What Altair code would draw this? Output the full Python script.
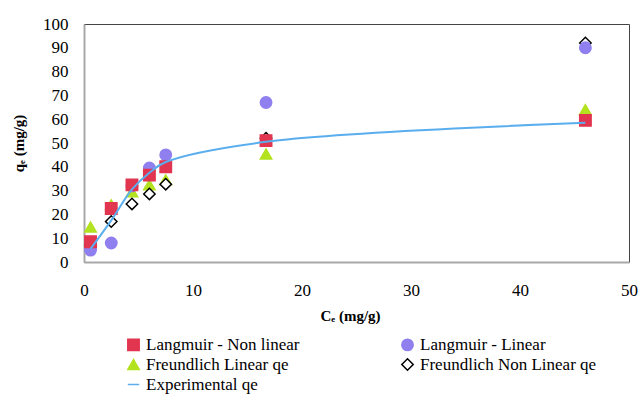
import altair as alt
import pandas as pd

# Equilibrium concentration Ce (mg/g)
ce = [0.6, 2.5, 4.4, 6.0, 7.5, 16.7, 46.0]

# qe (mg/g) for each model and the experimental data
langmuir_nonlinear = [8.5, 22.5, 32.4, 36.5, 40.0, 51.0, 59.5]
langmuir_linear = [5.0, 8.0, 32.0, 39.5, 45.0, 67.0, 90.0]
freundlich_linear = [14.7, 24.0, 29.5, 32.4, 34.5, 45.4, 64.0]
freundlich_nonlinear = [7.0, 17.0, 24.4, 28.6, 32.7, 52.0, 92.0]
experimental = [5.5, 17.5, 30.5, 37.5, 42.0, 50.5, 58.5]

series_names = [
    "Langmuir - Non linear",
    "Langmuir - Linear",
    "Freundlich Linear qe",
    "Freundlich Non Linear qe",
    "Experimental qe",
]

rows = []
for name, vals in zip(series_names, [langmuir_nonlinear, langmuir_linear,
                                      freundlich_linear, freundlich_nonlinear,
                                      experimental]):
    for i, (x, y) in enumerate(zip(ce, vals)):
        rows.append({"series": name, "ce": x, "qe": y, "order": i})
df = pd.DataFrame(rows)

FONT = "Liberation Serif"

fill_scale = alt.Scale(domain=series_names,
                       range=["#E2354F", "#8F7FEF", "#B3E21F", "white", "transparent"])
stroke_scale = alt.Scale(domain=series_names,
                         range=["#E2354F", "#8F7FEF", "#B3E21F", "black", "#5AAEEE"])
shape_scale = alt.Scale(domain=series_names,
                        range=["square", "circle", "triangle-up", "diamond", "stroke"])
size_scale = alt.Scale(domain=series_names, range=[130, 130, 130, 36, 841])

legend = alt.Legend(
    title=None, orient="none", legendX=41, legendY=312, columns=2,
    direction="horizontal",
    columnPadding=98, rowPadding=1, labelOffset=4, padding=0,
    labelFont=FONT, labelFontSize=17, labelColor="black",
    symbolStrokeWidth=1.5, labelLimit=300,
)

x_enc = alt.X("ce:Q", scale=alt.Scale(domain=[0, 50], nice=False),
              axis=alt.Axis(values=[0, 10, 20, 30, 40, 50], title="Cₑ (mg/g)",
                            labelFlush=False,
                            titleX=266, titleY=53, titleBaseline="middle",
                            titleAlign="center"))
y_enc = alt.Y("qe:Q", scale=alt.Scale(domain=[0, 100], nice=False),
              axis=alt.Axis(values=list(range(0, 101, 10)), title="qₑ (mg/g)",
                            titleX=-66, titleY=119, titleAngle=270,
                            titleAlign="center", titleBaseline="middle"))

points = alt.Chart(df).transform_filter(
    alt.datum.series != "Experimental qe"
).mark_point(filled=True, strokeWidth=1.5, opacity=1).encode(
    x=x_enc, y=y_enc,
    fill=alt.Fill("series:N", scale=fill_scale, legend=legend),
    stroke=alt.Stroke("series:N", scale=stroke_scale, legend=legend),
    shape=alt.Shape("series:N", scale=shape_scale, legend=legend),
    size=alt.Size("series:N", scale=size_scale, legend=legend),
    order=alt.Order("series:N"),
)

line = alt.Chart(df).transform_filter(
    alt.datum.series == "Experimental qe"
).mark_line(interpolate="catmull-rom", strokeWidth=2).encode(
    x=x_enc, y=y_enc,
    stroke=alt.Stroke("series:N", scale=stroke_scale, legend=legend),
    order="order:Q",
)

chart = alt.layer(points, line).properties(
    width=545, height=238,
    autosize=alt.AutoSizeParams(type="none"),
    padding={"left": 84, "top": 24, "right": 11, "bottom": 132},
    background="white",
).configure_view(
    stroke="#444444", strokeWidth=1
).configure_axis(
    grid=False, ticks=False, domainColor="#A8A8A8", domainWidth=2,
    labelFont=FONT, labelFontSize=17, labelColor="black",
    titleFont=FONT, titleFontSize=15, titleFontWeight="bold", titleColor="black",
).configure_axisY(
    labelPadding=16,
).configure_axisX(
    labelPadding=20,
)

chart.save("out.html", embed_options={"renderer": "svg", "actions": False})
